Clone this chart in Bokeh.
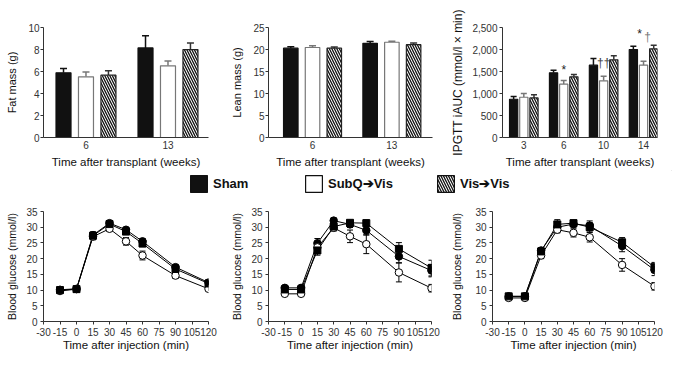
import numpy as np
from bokeh.plotting import figure
from bokeh.layouts import column, row
from bokeh.models import (ColumnDataSource, FixedTicker, NumeralTickFormatter, Whisker,
                          TeeHead, Legend, LegendItem, Range1d)
from bokeh.embed import file_html
from bokeh.resources import INLINE
from bokeh.core.properties import value

FONT = "Liberation Sans"

# ---------------- data ----------------
series_names = ["Sham", "SubQ\u2794Vis", "Vis\u2794Vis"]

fat_weeks = ["6", "13"]
fat_sham = [5.88, 8.14]
fat_sham_err = [0.40, 1.10]
fat_subq = [5.52, 6.52]
fat_subq_err = [0.43, 0.43]
fat_vis = [5.67, 7.99]
fat_vis_err = [0.40, 0.61]

lean_weeks = ["6", "13"]
lean_sham = [20.3, 21.4]
lean_sham_err = [0.35, 0.40]
lean_subq = [20.45, 21.65]
lean_subq_err = [0.40, 0.20]
lean_vis = [20.3, 21.1]
lean_vis_err = [0.25, 0.40]

auc_weeks = ["3", "6", "10", "14"]
auc_sham = [869, 1470, 1644, 2000]
auc_sham_err = [62, 60, 150, 76]
auc_subq = [915, 1212, 1288, 1644]
auc_subq_err = [85, 83, 106, 91]
auc_vis = [900, 1379, 1765, 2015]
auc_vis_err = [69, 53, 91, 80]
auc_marks = ["*", "\u2020\u2020", "*", "\u2020"]
auc_mark_week = ["6", "10", "14", "14"]
auc_mark_y = [1530, 1700, 2350, 2290]

gtt_time = [-15, 0, 15, 30, 45, 60, 90, 120]
gtt_ticks = [-30, -15, 0, 15, 30, 45, 60, 75, 90, 105, 120]
glu_ticks = [0, 5, 10, 15, 20, 25, 30, 35]

gtt1_sham = [10.1, 10.4, 27.5, 31.3, 29.2, 25.5, 17.3, 12.4]
gtt1_sham_err = [0.5, 0.4, 1.0, 0.6, 0.7, 0.9, 0.8, 0.5]
gtt1_subq = [9.7, 10.3, 27.0, 29.5, 25.5, 21.0, 14.6, 10.4]
gtt1_subq_err = [0.4, 0.4, 1.0, 0.8, 1.2, 1.4, 0.9, 0.5]
gtt1_vis = [10.0, 10.3, 27.3, 31.0, 28.6, 24.8, 16.7, 12.1]
gtt1_vis_err = [0.5, 0.4, 1.0, 0.7, 0.8, 1.0, 0.9, 0.6]

gtt2_sham = [10.7, 10.7, 24.9, 32.1, 30.9, 29.0, 20.7, 16.2]
gtt2_sham_err = [0.5, 0.5, 1.5, 0.8, 1.0, 1.5, 2.0, 2.0]
gtt2_subq = [8.8, 8.8, 23.6, 29.8, 27.1, 24.6, 15.6, 10.6]
gtt2_subq_err = [0.3, 0.3, 1.5, 1.0, 2.0, 3.0, 3.0, 1.2]
gtt2_vis = [10.2, 10.2, 22.6, 30.2, 31.4, 31.3, 23.1, 17.0]
gtt2_vis_err = [0.5, 0.5, 1.5, 1.0, 0.8, 1.0, 2.0, 2.5]

gtt3_sham = [8.0, 8.0, 22.6, 30.0, 31.0, 30.5, 24.0, 16.4]
gtt3_sham_err = [0.4, 0.4, 0.8, 1.5, 1.0, 1.5, 1.8, 1.8]
gtt3_subq = [7.5, 7.5, 21.0, 29.2, 28.2, 26.8, 18.0, 11.2]
gtt3_subq_err = [0.3, 0.3, 1.0, 1.0, 1.3, 1.5, 2.0, 1.2]
gtt3_vis = [8.0, 8.0, 22.3, 30.9, 31.3, 30.0, 25.2, 17.3]
gtt3_vis_err = [0.4, 0.4, 0.8, 1.5, 1.0, 1.5, 1.5, 1.5]

# ---------------- styles ----------------
AX = "#333333"
TXT = "#111111"
bar_styles = [
    dict(fill_color="#111111", line_color="#111111", hatch_pattern=None, err="#111111"),
    dict(fill_color="white", line_color="#777777", hatch_pattern=None, err="#777777"),
    dict(fill_color="white", line_color="#222222", hatch_pattern="\\", err="#333333"),
]


def style_axes(p, ylabel, ylabel_size, xlabel, lab_standoff, ylab_standoff, xlab_standoff, xtick_out):
    p.outline_line_color = None
    p.grid.visible = False
    p.background_fill_color = "white"
    p.border_fill_color = "white"
    for ax in (p.xaxis[0], p.yaxis[0]):
        ax.axis_line_color = AX
        ax.major_tick_line_color = AX
        ax.minor_tick_line_color = None
        ax.major_tick_in = 0
        ax.major_label_text_font = FONT
        ax.major_label_text_font_size = "10px"
        ax.major_label_text_color = "#333333"
        ax.axis_label_text_font = FONT
        ax.axis_label_text_font_style = "normal"
        ax.axis_label_text_color = TXT
    p.yaxis.major_tick_out = 3
    p.yaxis.major_label_standoff = lab_standoff
    p.yaxis.axis_label = ylabel
    p.yaxis.axis_label_text_font_size = ylabel_size
    p.yaxis.axis_label_standoff = ylab_standoff
    p.xaxis.major_tick_out = xtick_out
    p.xaxis.axis_label = xlabel
    p.xaxis.axis_label_text_font_size = "11.5px"
    p.xaxis.axis_label_standoff = xlab_standoff
    p.xaxis.major_label_standoff = 3


def bar_panel(weeks, groups, ylabel, ylabel_size, yend, yticks, xr, width, left, right,
              offset, bw, cap, lab_standoff, ylab_standoff, fmt=None):
    p = figure(width=width, height=170, x_range=Range1d(*xr), y_range=Range1d(0, yend),
               toolbar_location=None, output_backend="svg",
               min_border_left=left, min_border_right=right, min_border_top=27, min_border_bottom=33)
    pos = np.arange(1, len(weeks) + 1)
    for k, (vals, errs) in enumerate(groups):
        st = bar_styles[k]
        x = pos + (k - 1) * offset
        src = ColumnDataSource(dict(x=x, top=vals, upper=np.array(vals) + np.array(errs)))
        kw = dict(fill_color=st["fill_color"], line_color=st["line_color"], line_width=1.2)
        if st["hatch_pattern"]:
            kw.update(hatch_pattern=st["hatch_pattern"], hatch_color="#111111",
                      hatch_scale=5, hatch_weight=1.3)
        p.vbar(x="x", top="top", width=bw, source=src, **kw)
        p.add_layout(Whisker(source=src, base="x", lower="top", upper="upper", dimension="height",
                             line_color=st["err"], line_width=1.5, lower_head=None,
                             upper_head=TeeHead(size=cap, line_color=st["err"], line_width=1.5)))
    style_axes(p, ylabel, ylabel_size, "Time after transplant (weeks)", lab_standoff, ylab_standoff, 4, 0)
    p.xaxis.ticker = FixedTicker(ticks=list(pos))
    p.xaxis.major_label_overrides = {int(i): w for i, w in zip(pos, weeks)}
    p.yaxis.ticker = FixedTicker(ticks=yticks)
    if fmt:
        p.yaxis.formatter = NumeralTickFormatter(format=fmt)
    return p, pos


p1, _ = bar_panel(fat_weeks, [(fat_sham, fat_sham_err), (fat_subq, fat_subq_err), (fat_vis, fat_vis_err)],
                  "Fat mass (g)", "11px", 10, [0, 2, 4, 6, 8, 10], (0.482, 2.494), 228, 43, 20,
                  0.274, 0.183, 7, 1, 7)
p2, _ = bar_panel(lean_weeks, [(lean_sham, lean_sham_err), (lean_subq, lean_subq_err), (lean_vis, lean_vis_err)],
                  "Lean mass (g)", "11px", 25, [0, 5, 10, 15, 20, 25], (0.445, 2.512), 220, 35, 16,
                  0.274, 0.183, 7, 1, 7)
p3, pos3 = bar_panel(auc_weeks, [(auc_sham, auc_sham_err), (auc_subq, auc_subq_err), (auc_vis, auc_vis_err)],
                     "IPGTT iAUC (mmol/l \u00d7 min)", "12px", 2500, [0, 500, 1000, 1500, 2000, 2500],
                     (0.466, 4.35), 224, 49, 15, 0.255, 0.206, 6, 2, 4, fmt="0,0")

# significance marks above the SubQ->Vis bars
mark_x = [pos3[auc_weeks.index(w)] for w in auc_mark_week]
mark_src = ColumnDataSource(dict(x=mark_x, y=auc_mark_y, t=auc_marks,
                                 dx=[0, 0, -4, 4], col=["#222222", "#444444", "#222222", "#777777"]))
p3.text(x="x", y="y", text="t", x_offset="dx", text_color="col", source=mark_src,
        text_font=value(FONT), text_font_size="12px", text_align="center", text_baseline="middle")


def gtt_panel(groups, width, left, right, ylab_standoff):
    p = figure(width=width, height=162, x_range=Range1d(-30, 120), y_range=Range1d(0, 35),
               toolbar_location=None, output_backend="svg",
               min_border_left=left, min_border_right=right, min_border_top=13, min_border_bottom=39)
    markers = [("circle", "black"), ("circle", "white"), ("square", "black")]
    srcs = []
    for vals, errs in groups:
        v = np.array(vals)
        e = np.array(errs)
        src = ColumnDataSource(dict(x=gtt_time, y=v, lo=v - e, hi=v + e))
        srcs.append(src)
        p.add_layout(Whisker(source=src, base="x", lower="lo", upper="hi", dimension="height",
                             line_color="black", line_width=1, level="underlay",
                             lower_head=TeeHead(size=6, line_color="black", line_width=1),
                             upper_head=TeeHead(size=6, line_color="black", line_width=1)))
        p.line(x="x", y="y", source=src, line_color="black", line_width=1)
    for src, (m, fc) in zip(srcs, markers):
        p.scatter(x="x", y="y", source=src, marker=m, size=7.5 if m == "circle" else 7,
                  fill_color=fc, line_color="black", line_width=1)
    style_axes(p, "Blood glucose (mmol/l)", "10.5px", "Time after injection (min)", 3, ylab_standoff, 0, 3)
    p.xaxis.ticker = FixedTicker(ticks=gtt_ticks)
    p.xaxis.major_label_overrides = {t: str(t) for t in gtt_ticks if t < 0}
    p.yaxis.ticker = FixedTicker(ticks=glu_ticks)
    return p


p4 = gtt_panel([(gtt1_sham, gtt1_sham_err), (gtt1_subq, gtt1_subq_err), (gtt1_vis, gtt1_vis_err)], 228, 43, 20, 5)
p5 = gtt_panel([(gtt2_sham, gtt2_sham_err), (gtt2_subq, gtt2_subq_err), (gtt2_vis, gtt2_vis_err)], 220, 40, 17, 5)
p6 = gtt_panel([(gtt3_sham, gtt3_sham_err), (gtt3_subq, gtt3_subq_err), (gtt3_vis, gtt3_vis_err)], 224, 41, 18, 9)

# legend strip
lg = figure(width=672, height=28, x_range=Range1d(0, 1), y_range=Range1d(0, 1),
            x_axis_type=None, y_axis_type=None, toolbar_location=None, output_backend="svg",
            min_border=0, outline_line_color=None)
lg.grid.visible = False
for k, (name, vx) in enumerate(zip(series_names, [188, 303, 435])):
    st = bar_styles[k]
    kw = dict(fill_color=st["fill_color"], line_color="#111111", line_width=1.2)
    if st["hatch_pattern"]:
        kw.update(hatch_pattern=st["hatch_pattern"], hatch_color="#111111", hatch_scale=5, hatch_weight=1.3)
    # swatch renderer kept outside the visible range; only its legend glyph shows
    r = lg.vbar(x=[5], top=[5], bottom=[4], width=1, **kw)
    leg = Legend(items=[LegendItem(label=name, renderers=[r])], location=(vx, 4),
                 orientation="horizontal", glyph_width=21, glyph_height=21, label_standoff=4,
                 label_text_font=FONT, label_text_font_style="bold", label_text_font_size="13px",
                 label_text_color="#111111", padding=0, margin=0, spacing=0,
                 border_line_color=None, background_fill_alpha=0)
    lg.add_layout(leg)

layout = column(row(p1, p2, p3), lg, row(p4, p5, p6))
open("out.html", "w").write(file_html(layout, INLINE))
